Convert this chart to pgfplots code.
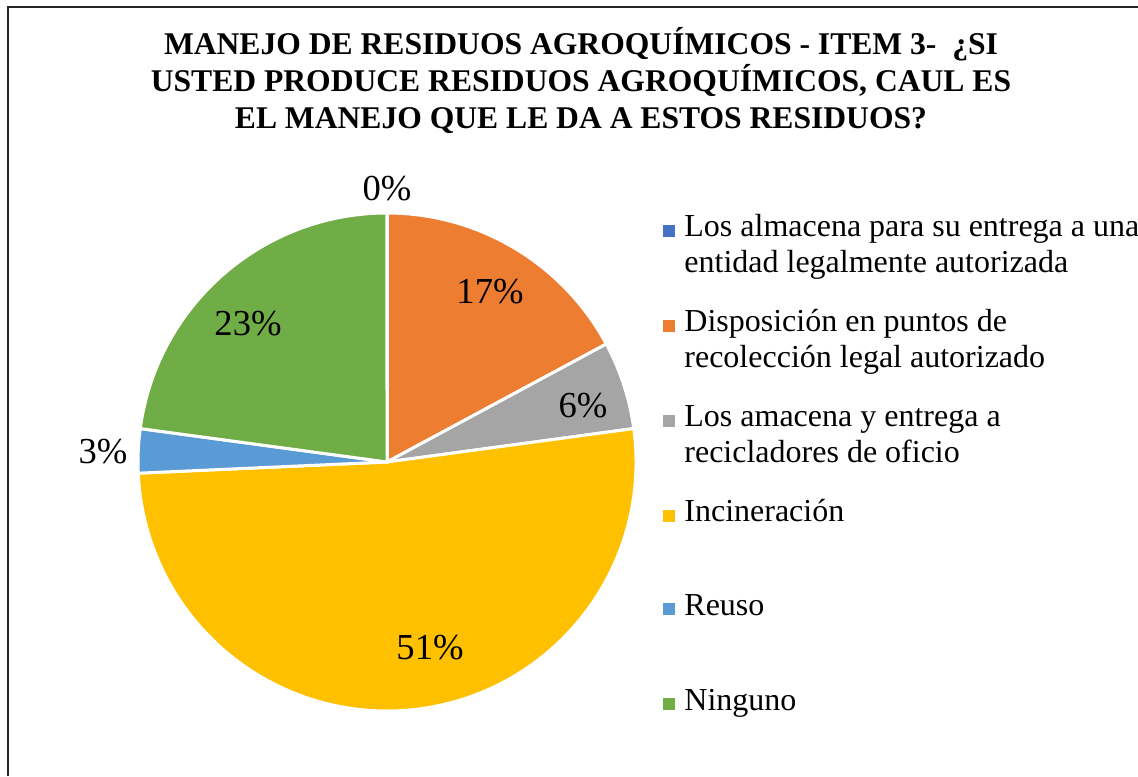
\documentclass[border=0pt]{standalone}
\usepackage{fontspec}
\setmainfont{Liberation Serif}
\usepackage{pgfplots}
\pgfplotsset{compat=1.18}

\definecolor{sA}{HTML}{4472C4}
\definecolor{sB}{HTML}{ED7D31}
\definecolor{sC}{HTML}{A5A5A5}
\definecolor{sD}{HTML}{FFC000}
\definecolor{sE}{HTML}{5B9BD5}
\definecolor{sF}{HTML}{70AD47}

% respuestas por categoria (total 35)
% A=0, B=6, C=2, D=18, E=1, F=8
\newcommand{\tot}{35}
\newcommand{\R}{124.5pt}

\tikzset{
    lab/.style={font=\fontsize{18.3pt}{21pt}\selectfont},
    leg/.style={font=\fontsize{16pt}{19pt}\selectfont, anchor=base west, inner sep=0pt},
    ttl/.style={font=\fontsize{15.8pt}{19pt}\selectfont\bfseries, anchor=base, inner sep=0pt},
}

\begin{document}
\begin{tikzpicture}
\begin{axis}[
    hide axis,
    scale only axis,
    width=569pt, height=388pt,
    xmin=0, xmax=1138, ymin=0, ymax=776,
    clip=false,
]
% marco
\draw[line width=1pt, black!85] (axis cs:7.5,0) -- (axis cs:7.5,768.5) -- (axis cs:1138,768.5);

% sectores (sentido horario desde arriba)
\fill[sB, draw=white, line width=1.5pt] (axis cs:387,314) -- ++(90:\R)
  arc[start angle=90, delta angle={-6/\tot*360}, radius=\R] -- cycle;
\fill[sC, draw=white, line width=1.5pt] (axis cs:387,314) -- ++({90-6/\tot*360}:\R)
  arc[start angle={90-6/\tot*360}, delta angle={-2/\tot*360}, radius=\R] -- cycle;
\fill[sD, draw=white, line width=1.5pt] (axis cs:387,314) -- ++({90-8/\tot*360}:\R)
  arc[start angle={90-8/\tot*360}, delta angle={-18/\tot*360}, radius=\R] -- cycle;
\fill[sE, draw=white, line width=1.5pt] (axis cs:387,314) -- ++({90-26/\tot*360}:\R)
  arc[start angle={90-26/\tot*360}, delta angle={-1/\tot*360}, radius=\R] -- cycle;
\fill[sF, draw=white, line width=1.5pt] (axis cs:387,314) -- ++({90-27/\tot*360}:\R)
  arc[start angle={90-27/\tot*360}, delta angle={-8/\tot*360}, radius=\R] -- cycle;
\draw[white, line width=1.5pt] (axis cs:387,314) -- ++(90:\R);

% etiquetas
\node[lab] at (axis cs:387,587) {0\%};
\node[lab] at (axis cs:490,484) {17\%};
\node[lab] at (axis cs:583,370) {6\%};
\node[lab] at (axis cs:430,128) {51\%};
\node[lab] at (axis cs:103,324) {3\%};
\node[lab] at (axis cs:248,452) {23\%};

% titulo
\node[ttl] at (axis cs:581,721) {MANEJO DE RESIDUOS AGROQUÍMICOS - ITEM 3-\ \ ¿SI};
\node[ttl] at (axis cs:581,684) {USTED PRODUCE RESIDUOS AGROQUÍMICOS, CAUL ES};
\node[ttl] at (axis cs:581,647) {EL MANEJO QUE LE DA A ESTOS RESIDUOS?};

% leyenda
\fill[sA] (axis cs:663,539) rectangle (axis cs:675,551);
\node[leg] at (axis cs:684,539) {Los almacena para su entrega a una};
\node[leg] at (axis cs:684,503) {entidad legalmente autorizada};
\fill[sB] (axis cs:663,444.3) rectangle (axis cs:675,456.3);
\node[leg] at (axis cs:684,444.3) {Disposición en puntos de};
\node[leg] at (axis cs:684,408.3) {recolección legal autorizado};
\fill[sC] (axis cs:663,349.3) rectangle (axis cs:675,361.3);
\node[leg] at (axis cs:684,349.3) {Los amacena y entrega a};
\node[leg] at (axis cs:684,313.3) {recicladores de oficio};
\fill[sD] (axis cs:663,254.3) rectangle (axis cs:675,266.3);
\node[leg] at (axis cs:684,254.3) {Incineración};
\fill[sE] (axis cs:663,161) rectangle (axis cs:675,173);
\node[leg] at (axis cs:684,161) {Reuso};
\fill[sF] (axis cs:663,66) rectangle (axis cs:675,78);
\node[leg] at (axis cs:684,66) {Ninguno};
\end{axis}
\pgfresetboundingbox
\useasboundingbox (current axis.south west) rectangle (current axis.north east);
\end{tikzpicture}
\end{document}
